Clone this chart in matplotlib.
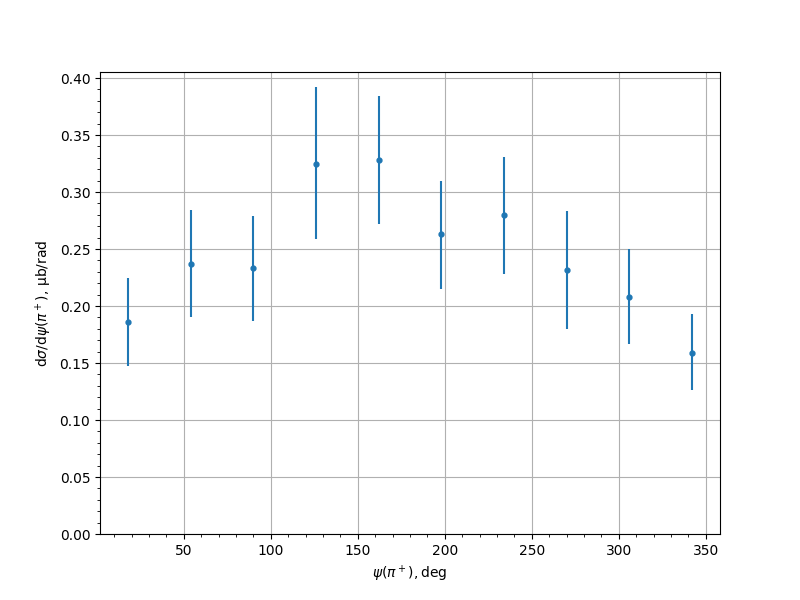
import matplotlib
matplotlib.use("Agg")
import matplotlib.pyplot as plt

psi_deg = [18, 54, 90, 126, 162, 198, 234, 270, 306, 342]
dsigma = [0.186, 0.237, 0.233, 0.325, 0.328, 0.263, 0.280, 0.232, 0.208, 0.159]
err_lo = [0.039, 0.047, 0.046, 0.066, 0.056, 0.048, 0.052, 0.052, 0.041, 0.033]
err_hi = [0.039, 0.047, 0.046, 0.067, 0.056, 0.047, 0.051, 0.051, 0.042, 0.034]

fig, ax = plt.subplots(figsize=(8, 6), dpi=100)
ax.errorbar(psi_deg, dsigma, yerr=[err_lo, err_hi], fmt='o', markersize=3.5, color='#1f77b4')
ax.set_ylim(bottom=0)
ax.minorticks_on()
ax.grid(True, which='major')
ax.set_xlabel(r"$\psi(\pi^+), \mathrm{deg}$")
ax.set_ylabel(r"d$\sigma$/d$\psi(\pi^+)$, $\mathrm{\mu b/rad}$")
fig.savefig("out.png", dpi=100)
